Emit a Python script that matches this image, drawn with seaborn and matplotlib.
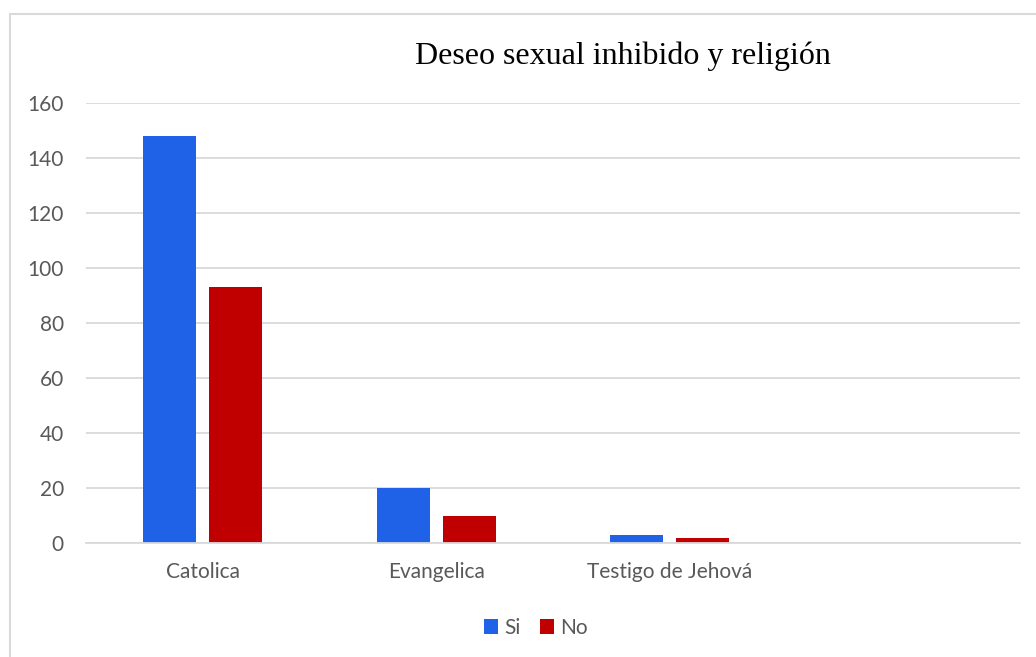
import matplotlib
matplotlib.use("Agg")
import matplotlib.pyplot as plt
import seaborn as sns
import pandas as pd
from matplotlib.lines import Line2D
from matplotlib.patches import Patch

categories = ["Catolica", "Evangelica", "Testigo de Jehová", ""]
series = ["Si", "No"]
si_values = [148, 20, 3]
no_values = [93, 10, 2]
yticks = [0, 20, 40, 60, 80, 100, 120, 140, 160]
colors = {"Si": "#1F62E8", "No": "#C00000"}

rows = []
for c, v in zip(categories[:3], si_values):
    rows.append({"cat": c, "serie": "Si", "val": v})
for c, v in zip(categories[:3], no_values):
    rows.append({"cat": c, "serie": "No", "val": v})
df = pd.DataFrame(rows)

sns.set_theme(style="white")
plt.rcParams["font.family"] = ["Lato", "DejaVu Sans"]

W, H = 1036, 657
fig = plt.figure(figsize=(W / 100, H / 100), dpi=100)
ax = fig.add_axes([86 / W, 1 - 543 / H, (1020 - 86) / W, (543 - 103) / H])

sns.barplot(data=df, x="cat", y="val", hue="serie", order=categories,
            hue_order=series, palette=colors, width=0.568, gap=0.2,
            saturation=1, linewidth=0, ax=ax, legend=False)

ax.set_ylim(0, 160)
ax.set_xlim(-0.5, 3.5)
ax.set_yticks(yticks)
ax.yaxis.grid(True, color="#d9d9d9", linewidth=1.3)
ax.set_axisbelow(True)
for s in ["top", "right", "left"]:
    ax.spines[s].set_visible(False)
ax.spines["bottom"].set_color("#d9d9d9")
ax.spines["bottom"].set_linewidth(1.3)
ax.tick_params(axis="both", length=0, labelsize=15, colors="#595959")
ax.tick_params(axis="y", pad=16)
ax.tick_params(axis="x", pad=14)
ax.set_xlabel("")
ax.set_ylabel("")

fig.text(623 / W, 1 - 56 / H, "Deseo sexual inhibido y religión",
         ha="center", va="center", fontsize=23, family="Liberation Serif",
         color="black")

handles = [Patch(facecolor=colors[s], edgecolor="none", label=s) for s in series]
fig.legend(handles=handles, loc="center", bbox_to_anchor=(536 / W, 1 - 628 / H),
           ncol=2, frameon=False, fontsize=15, handlelength=0.7,
           handleheight=0.7, handletextpad=0.3, columnspacing=0.9,
           labelcolor="#595959")

# outer chart border (left and top visible)
fig.add_artist(Line2D([10 / W, 10 / W], [0, 1 - 14 / H], transform=fig.transFigure,
                      color="#d9d9d9", linewidth=1.5))
fig.add_artist(Line2D([10 / W, 1], [1 - 14 / H, 1 - 14 / H], transform=fig.transFigure,
                      color="#d9d9d9", linewidth=1.5))

fig.savefig("out.png", dpi=100, facecolor="white")
